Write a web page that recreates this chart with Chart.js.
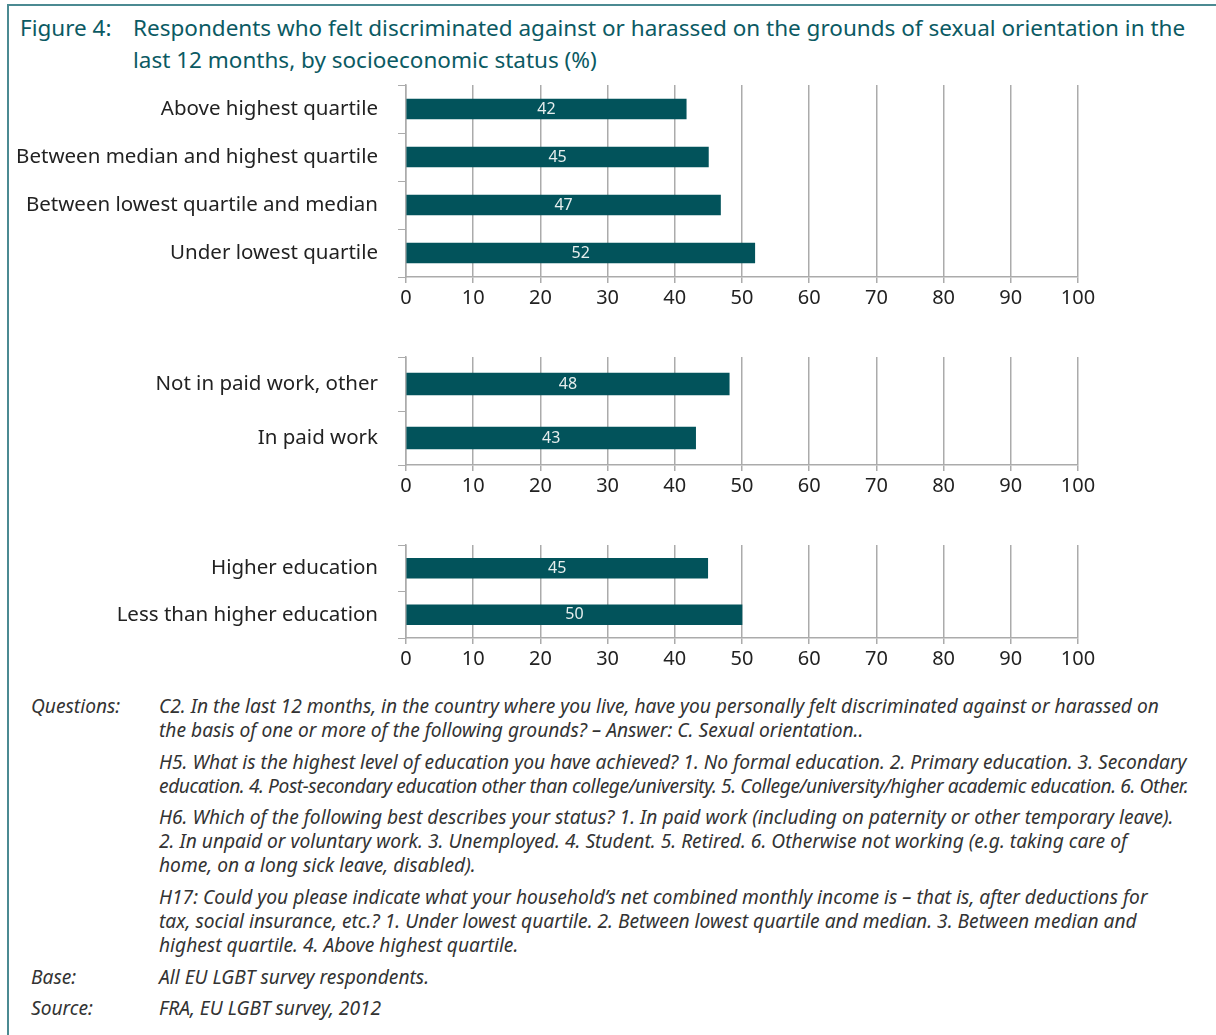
<!DOCTYPE html>
<html>
<head>
<meta charset="utf-8">
<script src="https://cdn.jsdelivr.net/npm/chart.js@4.4.1/dist/chart.umd.min.js"></script>
<style>
  body { margin: 0; width: 1216px; height: 1035px; background: #fff; position: relative; overflow: hidden; font-family: "Noto Sans", sans-serif; }
  .frame { position: absolute; left: 7px; top: 4px; right: 0; bottom: 0; border-top: 2px solid #4b8a92; border-left: 2px solid #4b8a92; }
  .title { position: absolute; top: 12px; color: #0b5a63; font-size: 22.5px; line-height: 32px; white-space: nowrap; }
  .box { position: absolute; left: 0; width: 1100px; }
  .notes { position: absolute; font-style: italic; color: #333; font-size: 19.2px; line-height: 24px; white-space: nowrap; }
  .tight { letter-spacing: -0.42px; }
</style>
</head>
<body>
<div class="frame"></div>
<div class="title" style="left:20px">Figure 4:</div>
<div class="title" style="left:133px">Respondents who felt discriminated against or harassed on the grounds of sexual orientation in the<br>last 12 months, by socioeconomic status (%)</div>

<div class="box" style="top:80px;height:230px"><canvas id="c1"></canvas></div>
<div class="box" style="top:352px;height:146px"><canvas id="c2"></canvas></div>
<div class="box" style="top:540px;height:131px"><canvas id="c3"></canvas></div>

<div class="notes" style="left:31px;top:694px">Questions:</div>
<div class="notes" style="left:159px;top:694px">C2. In the last 12 months, in the country where you live, have you personally felt discriminated against or harassed on<br>the basis of one or more of the following grounds? – Answer: C. Sexual orientation..</div>
<div class="notes" style="left:159px;top:750px">H5. What is the highest level of education you have achieved? 1. No formal education. 2. Primary education. 3. Secondary<br><span class="tight">education. 4. Post-secondary education other than college/university. 5. College/university/higher academic education. 6. Other.</span></div>
<div class="notes" style="left:159px;top:805px">H6. Which of the following best describes your status? 1. In paid work (including on paternity or other temporary leave).<br>2. In unpaid or voluntary work. 3. Unemployed. 4. Student. 5. Retired. 6. Otherwise not working (e.g. taking care of<br>home, on a long sick leave, disabled).</div>
<div class="notes" style="left:159px;top:885px">H17: Could you please indicate what your household’s net combined monthly income is – that is, after deductions for<br>tax, social insurance, etc.? 1. Under lowest quartile. 2. Between lowest quartile and median. 3. Between median and<br>highest quartile. 4. Above highest quartile.</div>
<div class="notes" style="left:31px;top:965px">Base:</div>
<div class="notes" style="left:159px;top:965px">All EU LGBT survey respondents.</div>
<div class="notes" style="left:31px;top:996px">Source:</div>
<div class="notes" style="left:159px;top:996px">FRA, EU LGBT survey, 2012</div>

<script>
const incomeLabels = ['Above highest quartile', 'Between median and highest quartile', 'Between lowest quartile and median', 'Under lowest quartile'];
const incomeValues = [41.7, 45, 46.8, 51.9];
const workLabels = ['Not in paid work, other', 'In paid work'];
const workValues = [48.1, 43.1];
const eduLabels = ['Higher education', 'Less than higher education'];
const eduValues = [44.9, 50];
const xTicks = [0, 10, 20, 30, 40, 50, 60, 70, 80, 90, 100];

const barColor = '#02535b';
const gridColor = '#ababab';

// write the rounded value in the middle of each bar
const valueLabels = {
    id: 'valueLabels',
    afterDatasetsDraw(chart) {
        const ctx = chart.ctx;
        ctx.save();
        ctx.font = '16px "Noto Sans"';
        ctx.fillStyle = '#e6eeee';
        ctx.textAlign = 'center';
        ctx.textBaseline = 'middle';
        chart.getDatasetMeta(0).data.forEach((bar, i) => {
            const v = chart.data.datasets[0].data[i];
            ctx.fillText(Math.round(v), (bar.x + bar.base) / 2, bar.y);
        });
        ctx.restore();
    }
};

function makeChart(id, labels, values, thickness) {
    return new Chart(document.getElementById(id), {
        type: 'bar',
        data: {
            labels: labels,
            datasets: [{
                data: values,
                backgroundColor: barColor,
                barThickness: thickness
            }]
        },
        options: {
            indexAxis: 'y',
            responsive: true,
            maintainAspectRatio: false,
            animation: false,
            layout: { padding: { top: 5, right: 22, left: 0, bottom: 0 } },
            plugins: { legend: { display: false }, tooltip: { enabled: false } },
            scales: {
                x: {
                    min: 0,
                    max: 100,
                    afterBuildTicks: axis => { axis.ticks = xTicks.map(v => ({ value: v })); },
                    afterFit: axis => { axis.height = 33; },
                    grid: { color: gridColor, lineWidth: 1.5, tickLength: 6 },
                    border: { color: gridColor, width: 1.5 },
                    ticks: { color: '#222', font: { size: 20, family: 'Noto Sans' }, padding: 3, maxRotation: 0 }
                },
                y: {
                    afterFit: axis => {
                        axis.width = 406;
                        axis.paddingTop = 0;
                        axis.paddingBottom = 0;
                    },
                    grid: { drawOnChartArea: false, color: gridColor, tickLength: 8, offset: true },
                    border: { color: gridColor, width: 1.5 },
                    ticks: { color: '#222', font: { size: 20.5, family: 'Noto Sans' }, padding: 20 }
                }
            }
        },
        plugins: [valueLabels]
    });
}

makeChart('c1', incomeLabels, incomeValues, 20);
makeChart('c2', workLabels, workValues, 22);
makeChart('c3', eduLabels, eduValues, 20);
</script>
</body>
</html>
